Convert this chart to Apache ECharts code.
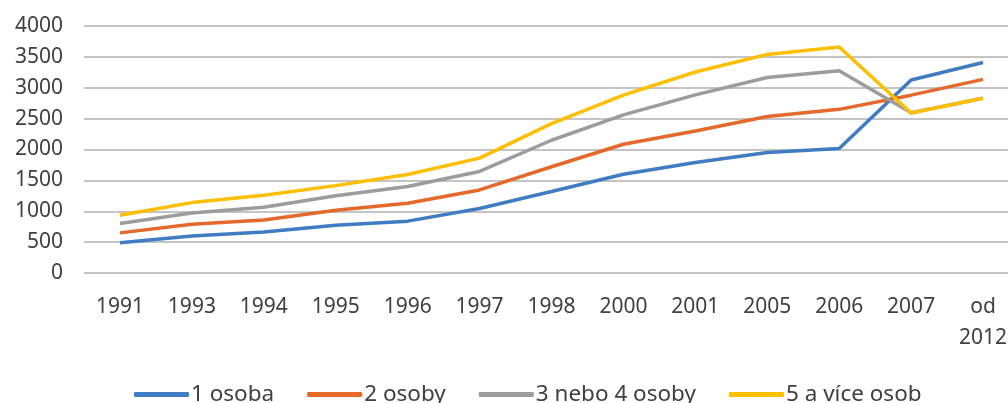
<!DOCTYPE html>
<html lang="cs">
<head>
    <meta charset="UTF-8">
    <title>Domácnosti podle počtu osob</title>
    <script src="https://cdn.jsdelivr.net/npm/echarts@6/dist/echarts.min.js"></script>
    <style>
        html, body { margin: 0; padding: 0; background: #fff; }
        #main { width: 1008px; height: 403px; }
    </style>
</head>
<body>
<div id="main"></div>
<script>
    // kategorie na ose x
    var years = ['1991', '1993', '1994', '1995', '1996', '1997', '1998', '2000', '2001', '2005', '2006', '2007', 'od\n2012'];
    // hodnoty
    var osoba1 = [490, 600, 665, 775, 840, 1045, 1320, 1600, 1790, 1950, 2015, 3125, 3410];
    var osoby2 = [650, 790, 860, 1015, 1130, 1345, 1720, 2085, 2300, 2535, 2650, 2880, 3135];
    var osoby34 = [800, 970, 1065, 1250, 1400, 1645, 2150, 2560, 2885, 3165, 3275, 2595, 2830];
    var osoby5 = [935, 1140, 1260, 1415, 1595, 1860, 2420, 2880, 3255, 3540, 3660, 2590, 2830];
    var yTicks = { min: 0, max: 4000, step: 500 };

    var myChart = echarts.init(document.getElementById('main'));

    var font = 'Noto Sans';
    function line(name, color, data) {
        return {
            name: name,
            type: 'line',
            data: data,
            symbol: 'none',
            smooth: false,
            lineStyle: { color: color, width: 3.5 },
            itemStyle: { color: color }
        };
    }

    option = {
        animation: false,
        textStyle: { fontFamily: font },
        grid: {
            left: 84,
            top: 26,
            width: 935,
            height: 247,
            containLabel: false,
            outerBoundsMode: 'none'
        },
        legend: {
            left: 129,
            top: 378,
            itemWidth: 55,
            itemHeight: 5,
            itemGap: 33,
            icon: 'roundRect',
            textStyle: { fontFamily: font, fontSize: 22.5, color: '#404040', padding: [0, 0, 0, -3] },
            data: ['1 osoba', '2 osoby', '3 nebo 4 osoby', '5 a více osob']
        },
        xAxis: {
            type: 'category',
            data: years,
            boundaryGap: true,
            axisLine: { show: false },
            axisTick: { show: false },
            axisLabel: {
                interval: 0,
                margin: 19,
                fontSize: 21,
                lineHeight: 31,
                color: '#404040',
                fontFamily: font
            }
        },
        yAxis: {
            type: 'value',
            min: yTicks.min,
            max: yTicks.max,
            interval: yTicks.step,
            axisLine: { show: false },
            axisTick: { show: false },
            axisLabel: {
                margin: 21,
                fontSize: 21,
                color: '#404040',
                fontFamily: font,
                formatter: function (v) { return String(v); }
            },
            splitLine: { lineStyle: { color: '#c4c4c4', width: 2 } }
        },
        series: [
            line('1 osoba', '#3f7cc4', osoba1),
            line('2 osoby', '#e4692a', osoby2),
            line('3 nebo 4 osoby', '#9c9c9c', osoby34),
            line('5 a více osob', '#ffbe00', osoby5)
        ]
    };

    myChart.setOption(option);
</script>
</body>
</html>
